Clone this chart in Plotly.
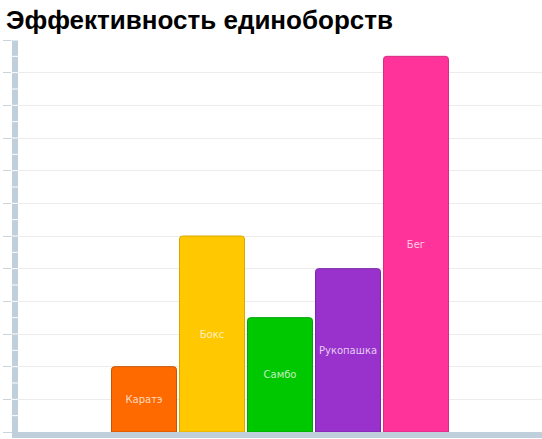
import numpy as np
import plotly.graph_objects as go

# data
sports = ['Каратэ', 'Бокс', 'Самбо', 'Рукопашка', 'Бег']
efficiency = [2, 6, 3.5, 5, 11.5]
colors = ['#ff6a00', '#ffc800', '#00c800', '#9932cc', '#ff3399']
edges = ['#c85200', '#d9a800', '#00a000', '#7a26a6', '#d62a80']

axis_col = '#bfcfdc'

fig = go.Figure()
fig.add_trace(go.Bar(x=sports, y=efficiency, text=sports,
                     textposition='inside', insidetextanchor='middle',
                     textfont=dict(family='DejaVu Sans', size=10, color='rgba(255,255,255,0.75)'),
                     marker=dict(color=colors, line=dict(color=edges, width=1), cornerradius=3),
                     width=0.955, hoverinfo='skip'))

# white separators across the thick left axis bar
shapes = []
for v in np.arange(0.5, 12.01, 0.5):
    shapes.append(dict(type='line', xref='paper', yref='y', xsizemode='pixel', xanchor=0,
                       x0=-7, x1=0, y0=v, y1=v, line=dict(color='white', width=1), layer='above'))

fig.update_layout(width=542, height=439,
                  margin=dict(l=18, r=0, t=40, b=7),
                  paper_bgcolor='white', plot_bgcolor='white',
                  title=dict(text='<b>Эффективность единоборств</b>', x=0.011, xanchor='left',
                             y=0.933, yanchor='bottom',
                             font=dict(family='Liberation Sans', size=26, color='black')),
                  showlegend=False, shapes=shapes,
                  xaxis=dict(range=[-1.853, 5.853], showticklabels=False, ticks='',
                             showgrid=False, zeroline=False,
                             showline=True, linewidth=6, linecolor=axis_col),
                  yaxis=dict(range=[0, 12], dtick=1, showticklabels=False,
                             ticks='outside', ticklen=9, tickwidth=1, tickcolor='#c8d4de',
                             showgrid=True, gridcolor='#ececec', gridwidth=1, zeroline=False,
                             showline=True, linewidth=6, linecolor=axis_col))

# the page's default body margin would shift the chart, so drop it
fig.write_html("out.html", config={'displayModeBar': False},
               post_script="document.body.style.margin='0px';")
